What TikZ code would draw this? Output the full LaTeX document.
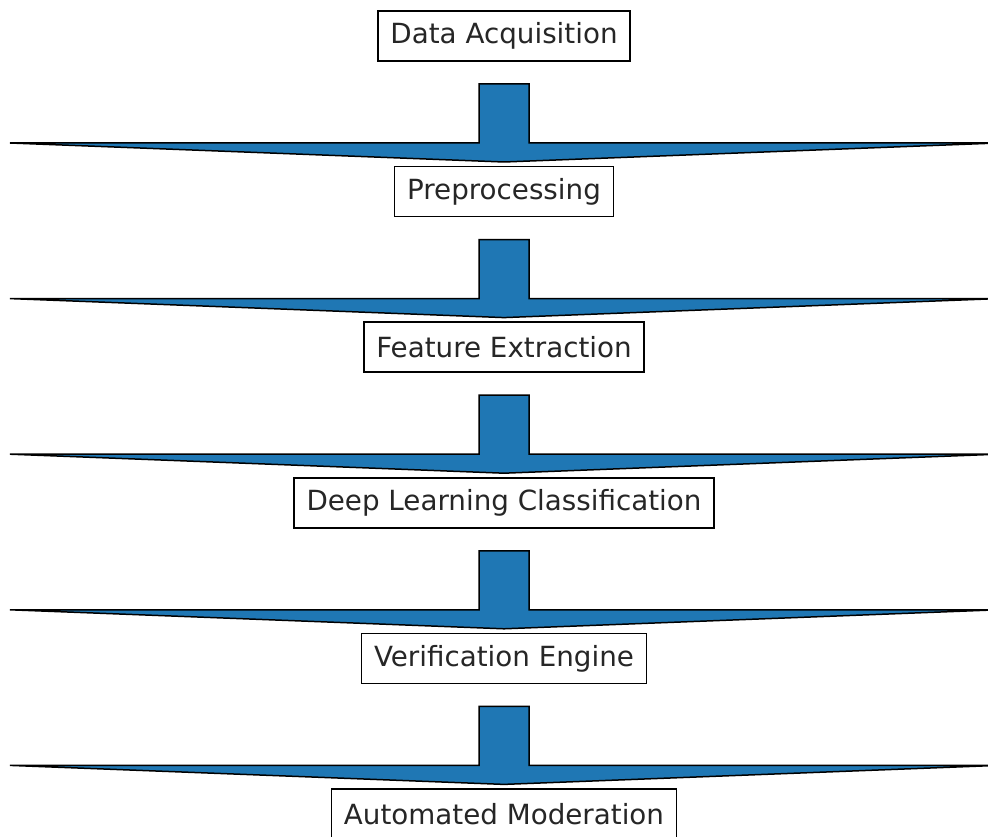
\documentclass[tikz,border=0pt]{standalone}
\usepackage{fontspec}
\setmainfont{DejaVu Sans}
\usetikzlibrary{positioning}
\definecolor{mplblue}{RGB}{31,119,180}
\tikzset{
  sbox/.style={rectangle, draw=black, line width=0.9pt, fill=white, text=black!85,
               font=\fontsize{15.8}{18}\selectfont, minimum height=1cm, inner xsep=0.25cm},
  fatarr/.pic={\filldraw[fill=mplblue, draw=black, line width=0.85pt]
     (-25,48) -- (25,48) -- (25,107) -- (494,107) -- (0,126) -- (-494,107) -- (-25,107) -- cycle;},
}
\begin{document}
\begin{tikzpicture}[x=0.02cm, y=-0.02cm, node distance=2.081cm]
        \useasboundingbox (0,0) rectangle (988,837);
        \clip (0,0) rectangle (988,837);
        \node[sbox](acq) at (504,36){Data Acquisition};
        \node[sbox, below=of acq](prep){Preprocessing};
        \node[sbox, below=of prep](feat){Feature Extraction};
        \node[sbox, below=of feat](dlc){Deep Learning Classification};
        \node[sbox, below=of dlc](verif){Verification Engine};
        \node[sbox, below=of verif](mod){Automated Moderation};
        \pic at (acq) {fatarr};\pic at (prep) {fatarr};\pic at (feat) {fatarr};
        \pic at (dlc) {fatarr};\pic at (verif) {fatarr};
    \end{tikzpicture}
\end{document}
